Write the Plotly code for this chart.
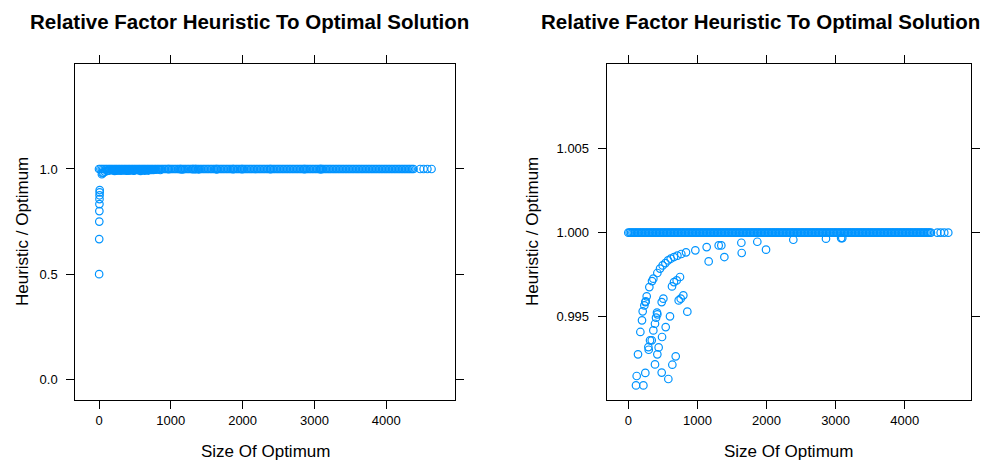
import plotly.graph_objects as go

# ---- data ----
# sizes of optimum where heuristic == optimum (dense band at ratio 1.0)
band_x = [0, 20, 40, 60, 80, 100, 120, 140, 160, 180, 200, 220, 240, 260, 280, 300, 320, 340, 360, 380,
          400, 420, 440, 460, 480, 500, 520, 540, 560, 580, 600, 620, 640, 660, 680, 700, 720, 740, 760, 780,
          800, 820, 840, 860, 880, 900, 920, 940, 960, 980, 1000, 1020, 1040, 1060, 1080, 1100, 1120, 1140, 1160, 1180,
          1200, 1220, 1240, 1260, 1280, 1300, 1320, 1340, 1360, 1380, 1400, 1420, 1440, 1460, 1480, 1500, 1520, 1540, 1560, 1580,
          1600, 1620, 1640, 1660, 1680, 1700, 1720, 1740, 1760, 1780, 1800, 1820, 1840, 1860, 1880, 1900, 1920, 1940, 1960, 1980,
          2000, 2020, 2040, 2060, 2080, 2100, 2120, 2140, 2160, 2180, 2200, 2220, 2240, 2260, 2280, 2300, 2320, 2340, 2360, 2380,
          2400, 2420, 2440, 2460, 2480, 2500, 2520, 2540, 2560, 2580, 2600, 2620, 2640, 2660, 2680, 2700, 2720, 2740, 2760, 2780,
          2800, 2820, 2840, 2860, 2880, 2900, 2920, 2940, 2960, 2980, 3000, 3020, 3040, 3060, 3080, 3100, 3120, 3140, 3160, 3180,
          3200, 3220, 3240, 3260, 3280, 3300, 3320, 3340, 3360, 3380, 3400, 3420, 3440, 3460, 3480, 3500, 3520, 3540, 3560, 3580,
          3600, 3620, 3640, 3660, 3680, 3700, 3720, 3740, 3760, 3780, 3800, 3820, 3840, 3860, 3880, 3900, 3920, 3940, 3960, 3980,
          4000, 4020, 4040, 4060, 4080, 4100, 4120, 4140, 4160, 4180, 4200, 4220, 4240, 4260, 4280, 4300, 4320, 4340, 4360, 4380]
tail_x = [4472, 4521, 4573, 4631]

# very small optima (left panel, below the band)
small_x = [2, 3, 4, 5, 6, 7, 8, 9, 10, 40, 50, 60, 80]
small_y = [0.5, 0.667, 0.75, 0.8, 0.833, 0.857, 0.875, 0.889, 0.9,
           0.975, 0.98, 0.983, 0.9875]

# ratios slightly below 1 (visible in the zoomed right panel)
sub_x = [121, 111, 218, 246, 140, 290, 295, 314, 174, 198, 208, 232, 246, 266, 304, 343, 362, 420, 459, 497,
         536, 575, 613, 661, 710, 767, 835, 970, 1134, 1308, 1346, 1636, 1867, 2388, 2861, 3097, 3080,
         386, 420, 439, 483, 488, 362, 386, 401, 420, 483, 507, 541, 579, 603, 632, 661, 700, 748,
         637, 686, 729, 758, 796, 854, 1163, 1390, 1641, 1993, 415, 339, 252]
sub_y = [0.99147, 0.99091, 0.99091, 0.99165, 0.99276, 0.99319, 0.99303, 0.99359, 0.99409, 0.99478,
         0.99532, 0.99567, 0.99587, 0.99621, 0.99676, 0.99712, 0.99726, 0.99760, 0.99786, 0.99805,
         0.99819, 0.99835, 0.99845, 0.99855, 0.99863, 0.99873, 0.99883, 0.99895, 0.99914, 0.99924,
         0.99924, 0.99940, 0.99946, 0.99958, 0.99964, 0.99968, 0.99968,
         0.99216, 0.99276, 0.99317, 0.99167, 0.99379, 0.99418, 0.99458, 0.99494, 0.99514, 0.99587,
         0.99607, 0.99438, 0.99129, 0.99502, 0.99680, 0.99706, 0.99716, 0.99736,
         0.99214, 0.99264, 0.99597, 0.99607, 0.99627, 0.99530, 0.99829, 0.99855, 0.99879, 0.99899,
         0.99524, 0.99359, 0.99591]

x_ticks = [0, 1000, 2000, 3000, 4000]
left_y_ticks = [0.0, 0.5, 1.0]
right_y_ticks = [0.995, 1.000, 1.005]

title_text = "Relative Factor Heuristic To Optimal Solution"
xlab = "Size Of Optimum"
ylab = "Heuristic / Optimum"

# ---- assemble ----
all_x = band_x + tail_x + small_x + sub_x
all_y = [1.0] * (len(band_x) + len(tail_x)) + small_y + sub_y

# page body has an 8px margin: figure is 980x456 placed at (8, 8)
OFF = 8
W, H = 988 - OFF, 464 - OFF
COL = "#0094ff"
FONT = "Liberation Sans, Arial, Helvetica, sans-serif"


def px(x):
    return (x - OFF) / W


def py(y):
    return (H - (y - OFF)) / H


marker = dict(symbol="circle-open", size=7.5, color=COL, line=dict(width=1.2, color=COL))

fig = go.Figure()
fig.add_trace(go.Scatter(x=all_x, y=all_y, mode="markers", marker=marker,
                         xaxis="x", yaxis="y", showlegend=False, hoverinfo="skip"))
fig.add_trace(go.Scatter(x=all_x, y=all_y, mode="markers", marker=marker,
                         xaxis="x2", yaxis="y2", showlegend=False, hoverinfo="skip"))

ydom = [py(400), py(64)]
axis_common = dict(showgrid=False, zeroline=False, showline=True, linecolor="black", linewidth=1,
                   mirror="ticks", ticks="outside", ticklen=8, tickcolor="black", tickwidth=1,
                   tickfont=dict(family=FONT, size=13, color="black"))

fig.update_layout(
    width=W, height=H, margin=dict(l=0, r=0, t=0, b=0),
    paper_bgcolor="white", plot_bgcolor="white",
    font=dict(family=FONT, color="black"),
    xaxis=dict(domain=[px(75.3), px(455.3)], range=[-330, 4962], tickvals=x_ticks,
               anchor="y", **axis_common),
    yaxis=dict(domain=ydom, range=[-0.098, 1.499], tickvals=left_y_ticks, tickformat=".1f",
               anchor="x", ticklabelstandoff=6, **axis_common),
    xaxis2=dict(domain=[px(606.7), px(971)], range=[-313, 4960], tickvals=x_ticks,
                anchor="y2", **axis_common),
    yaxis2=dict(domain=ydom, range=[0.99004, 1.01004], tickvals=right_y_ticks, tickformat=".3f",
                anchor="x2", ticklabelstandoff=6, **axis_common),
)

ann = []
for cx in (249, 760):
    ann.append(dict(text="<b>" + title_text + "</b>", x=px(cx), y=py(21), xref="paper", yref="paper",
                    xanchor="center", yanchor="middle", showarrow=False, borderpad=0,
                    font=dict(family=FONT, size=20.5, color="black")))
for cx in (265, 788):
    ann.append(dict(text=xlab, x=px(cx), y=py(451), xref="paper", yref="paper",
                    xanchor="center", yanchor="middle", showarrow=False,
                    font=dict(family=FONT, size=17, color="black")))
for cx in (22, 532):
    ann.append(dict(text=ylab, x=px(cx), y=py(232), xref="paper", yref="paper",
                    xanchor="center", yanchor="middle", showarrow=False, textangle=-90,
                    font=dict(family=FONT, size=17, color="black")))
fig.update_layout(annotations=ann)

fig.write_html("out.html")
